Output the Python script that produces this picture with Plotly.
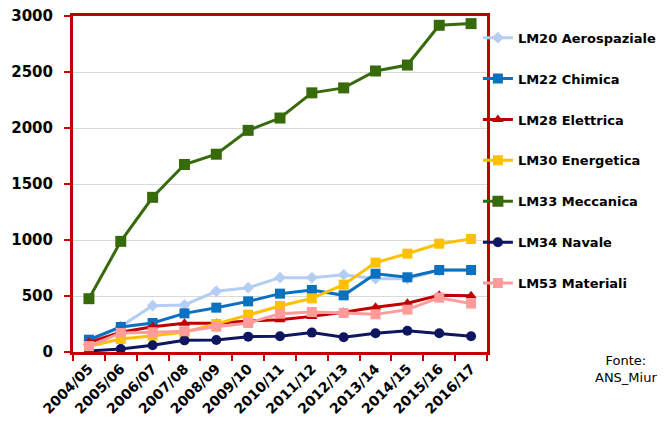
import plotly.graph_objects as go

years = ["2004/05", "2005/06", "2006/07", "2007/08", "2008/09", "2009/10", "2010/11",
         "2011/12", "2012/13", "2013/14", "2014/15", "2015/16", "2016/17"]

aerospaziale = [95, 229, 414, 420, 542, 574, 664, 664, 690, 655, 655, 729, 729]
chimica = [110, 223, 259, 345, 396, 452, 521, 554, 506, 699, 667, 732, 732]
elettrica = [86, 176, 226, 256, 256, 277, 289, 318, 354, 399, 435, 506, 503]
energetica = [51, 116, 146, 176, 250, 333, 411, 479, 601, 798, 878, 967, 1009]
meccanica = [476, 988, 1381, 1674, 1766, 1979, 2089, 2314, 2358, 2509, 2562, 2917, 2932]
navale = [9, 27, 60, 104, 107, 137, 140, 173, 131, 167, 190, 167, 140]
materiali = [51, 170, 176, 185, 226, 259, 342, 357, 348, 336, 378, 485, 432]

series = [
    ("LM20 Aerospaziale", aerospaziale, "#B4CDF2", "diamond", 9),
    ("LM22 Chimica", chimica, "#0A70C0", "square", 10),
    ("LM28 Elettrica", elettrica, "#C00000", "triangle-up", 10),
    ("LM30 Energetica", energetica, "#FFC000", "square", 10),
    ("LM33 Meccanica", meccanica, "#376A0B", "square", 11),
    ("LM34 Navale", navale, "#0E1660", "circle", 10),
    ("LM53 Materiali", materiali, "#FF9B9B", "square", 10),
]

FONT = "Comic Sans MS, DejaVu Sans"
RED = "#C00000"

fig = go.Figure()
for i, (name, vals, col, sym, sz) in enumerate(series):
    fig.add_trace(go.Scatter(
        x=years, y=vals, name=name, mode="lines+markers",
        line=dict(color=col, width=3),
        marker=dict(color=col, symbol=sym, size=sz, line=dict(width=0)),
        legendgroup=str(i),
    ))

fig.update_layout(
    width=666, height=427,
    margin=dict(l=73, r=179, t=16, b=75, autoexpand=False),
    paper_bgcolor="white", plot_bgcolor="white",
    font=dict(family=FONT, color="black"),
    legend=dict(
        x=0.978, y=0.98, xanchor="left", yanchor="top",
        xref="paper", yref="paper",
        font=dict(family=FONT, size=13, color="black", weight="bold"),
        traceorder="grouped", tracegroupgap=21,
        itemwidth=30, bgcolor="rgba(0,0,0,0)",
    ),
    xaxis=dict(
        type="category", range=[-0.5, 12.5],
        showline=True, linecolor=RED, linewidth=3, mirror=True,
        ticks="outside", tickson="boundaries", ticklen=6, tickcolor=RED, tickwidth=2,
        tickangle=-45, showgrid=False, automargin=False,
        tickfont=dict(family=FONT, size=14, color="black", weight="bold"),
    ),
    yaxis=dict(
        range=[0, 3000], dtick=500,
        showline=True, linecolor=RED, linewidth=3, mirror=True,
        ticks="outside", ticklen=6, tickcolor=RED, tickwidth=2,
        showgrid=True, gridcolor="#D9D9D9", gridwidth=1,
        zeroline=False, automargin=False, ticklabelstandoff=8,
        tickfont=dict(family=FONT, size=15, color="black", weight="bold"),
    ),
    annotations=[dict(
        text="Fonte:<br>ANS_Miur", xref="paper", yref="paper",
        x=1.336, y=-0.05, xanchor="center", yanchor="middle",
        showarrow=False, align="center",
        font=dict(family=FONT, size=13, color="black"),
    )],
)

fig.write_html("out.html", config={"displayModeBar": False},
               post_script="document.body.style.margin='0';")
